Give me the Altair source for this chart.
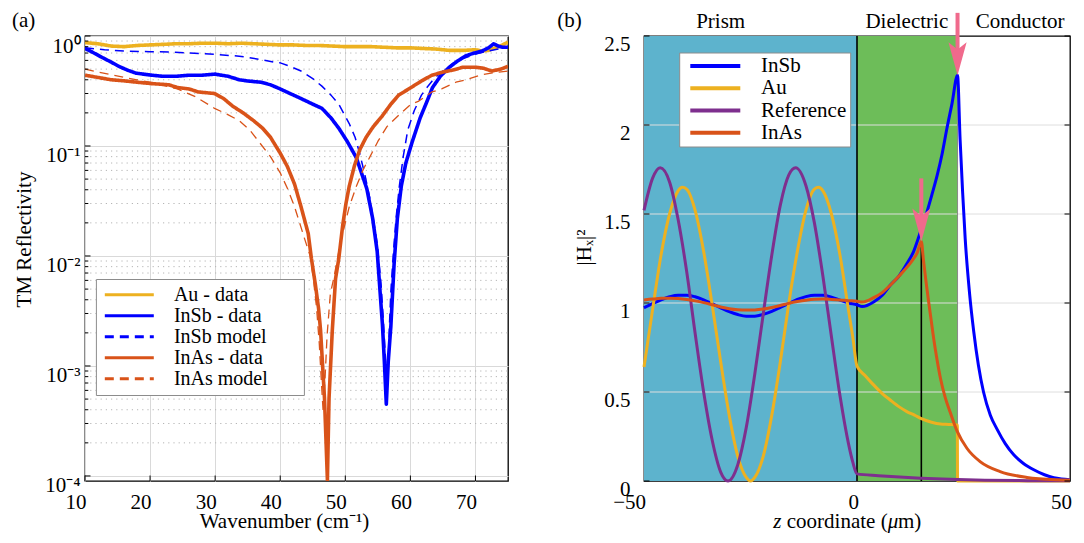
import altair as alt
import pandas as pd

FONT = "Liberation Serif"
FS = 21

# ---------------- panel (a): TM reflectivity ----------------
au_wn = [10, 12, 14, 16, 18, 20, 22, 24, 26, 28, 30, 32, 34, 36, 38, 40, 42, 44, 46, 48, 50, 52, 54, 56, 58, 60,
         62, 64, 66, 68, 70, 71, 72, 73, 74, 75]
au_r = [0.87, 0.85, 0.81, 0.80, 0.82, 0.83, 0.84, 0.85, 0.85, 0.86, 0.86, 0.85, 0.86, 0.85, 0.84, 0.83, 0.83, 0.82,
        0.82, 0.81, 0.80, 0.80, 0.80, 0.79, 0.78, 0.78, 0.77, 0.76, 0.74, 0.74, 0.75, 0.73, 0.74, 0.78, 0.82, 0.88]

insb_wn = [10, 11, 12.7, 14, 15.2, 16.5, 17.8, 19, 20.3, 22, 24, 26, 28, 30, 32, 33.7, 35, 37, 38.5, 40, 41.5, 43.2,
           45, 46.4, 47.8, 49, 50.3, 51.7, 53.3, 54.2, 54.9, 55.7, 56.0, 56.3, 56.6, 57.0, 57.5, 58.0, 58.6, 59.3,
           60.3, 61.5, 62.5, 63.4, 64.6, 65.9, 67.2, 68.5, 69.8, 71.0, 72.0, 72.8, 73.5, 74.2, 75]
insb_r = [0.77, 0.72, 0.635, 0.58, 0.53, 0.49, 0.46, 0.45, 0.44, 0.43, 0.43, 0.44, 0.44, 0.45, 0.43, 0.40, 0.39, 0.38,
          0.36, 0.33, 0.30, 0.27, 0.24, 0.22, 0.18, 0.145, 0.11, 0.078, 0.041, 0.022, 0.011, 0.0024, 0.0011, 0.00045,
          0.0011, 0.0023, 0.0085, 0.022, 0.043, 0.07, 0.11, 0.18, 0.25, 0.34, 0.43, 0.515, 0.59, 0.66, 0.70, 0.73,
          0.78, 0.85, 0.81, 0.79, 0.79]

insbm_wn = [10, 13, 16.2, 20, 23, 26, 30, 33, 35, 37, 39, 40, 41.5, 43.2, 45, 46.4, 47.8, 49, 50.6, 51.5, 52.2, 53,
            53.8, 54.4, 54.9, 55.5, 55.9, 56.2, 56.4, 56.6, 56.8, 57.0, 57.4, 57.8, 58.3, 58.9, 59.6, 60.6, 61.7,
            62.7, 63.8, 65, 66.5, 68, 70.2, 72, 73.5, 75]
insbm_r = [0.78, 0.75, 0.73, 0.72, 0.715, 0.70, 0.68, 0.66, 0.64, 0.61, 0.58, 0.57, 0.53, 0.48, 0.41, 0.35, 0.29,
           0.24, 0.16, 0.12, 0.086, 0.055, 0.033, 0.02, 0.013, 0.0055, 0.0023, 0.0011, 0.0007, 0.0011, 0.0025,
           0.0048, 0.011, 0.022, 0.043, 0.08, 0.14, 0.21, 0.29, 0.35, 0.42, 0.48, 0.56, 0.62, 0.69, 0.73, 0.76, 0.78]

inas_wn = [10, 12, 14, 16.2, 18, 20, 22.9, 24.2, 26, 27.4, 29.9, 31.3, 32.7, 34.3, 35.9, 37.3, 38.5, 40, 41.1, 42.2,
           43.2, 44.3, 44.8, 45.4, 45.9, 46.2, 46.8, 47.25, 47.5, 48.0, 48.5, 49.0, 49.6, 50.1, 50.6, 51.4, 52.2,
           53.2, 54.3, 55.6, 57.0, 58.2, 60.1, 61.7, 63.3, 65, 66.5, 68.1, 70, 71.2, 72.5, 73.9, 75]
inas_r = [0.44, 0.42, 0.40, 0.39, 0.38, 0.37, 0.36, 0.34, 0.33, 0.31, 0.30, 0.27, 0.23, 0.20, 0.17, 0.145, 0.12,
          0.086, 0.065, 0.045, 0.028, 0.016, 0.0094, 0.0055, 0.0033, 0.0021, 0.00051, 0.000092, 0.00051, 0.0021,
          0.0062, 0.0095, 0.019, 0.03, 0.043, 0.066, 0.092, 0.12, 0.15, 0.185, 0.24, 0.29, 0.34, 0.39, 0.44, 0.47,
          0.49, 0.52, 0.52, 0.51, 0.48, 0.50, 0.53]

inasm_wn = [10, 12, 13.7, 16, 18, 20, 22, 24.2, 27, 29.9, 31.8, 33.7, 35.3, 36.9, 38.5, 40, 41.2, 42.2, 43.1, 43.8,
            44.6, 45.1, 45.6, 46.0, 46.4, 46.6, 46.9, 47.2, 47.7, 48.3, 49.0, 49.6, 50.6, 51.7, 52.8, 53.8, 55.0,
            56.4, 58.2, 60.1, 61.3, 63.3, 64.8, 67, 68.5, 70.7, 71.5, 73, 75]
inasm_r = [0.50, 0.47, 0.45, 0.42, 0.40, 0.38, 0.355, 0.33, 0.28, 0.22, 0.195, 0.17, 0.14, 0.106, 0.08, 0.057, 0.04,
           0.028, 0.019, 0.014, 0.01, 0.0062, 0.0033, 0.0016, 0.0006, 0.00038, 0.0008, 0.0019, 0.0045, 0.0066,
           0.011, 0.016, 0.028, 0.043, 0.062, 0.08, 0.11, 0.15, 0.19, 0.24, 0.256, 0.31, 0.33, 0.38, 0.40, 0.44,
           0.45, 0.465, 0.48]

series_a = ["Au - data", "InSb - data", "InSb model", "InAs - data", "InAs model"]
colors_a = ["#EDB120", "#0000FF", "#0000FF", "#D95319", "#D95319"]
dash_a = [[1, 0], [1, 0], [9, 6], [1, 0], [9, 6]]
width_a = [3.6, 3.6, 1.5, 3.6, 1.3]

xticks_a = [10, 20, 30, 40, 50, 60, 70]
yticks_a = [1e-4, 1e-3, 1e-2, 1e-1, 1.0]
yminor_a = [m * 10.0 ** k for k in range(-4, 0) for m in range(2, 10)]

# ---------------- panel (b): field profiles ----------------
insb_z = [-50, -48, -46, -44, -42, -40, -38, -36, -34, -32, -30, -28, -26, -24, -22, -20, -18, -16, -14, -12, -10,
          -8, -6, -4, -2, 0, 1.2, 3.9, 6, 7.8, 9.8, 11.7, 13.3, 14.9, 16.4, 17.6, 18.8, 20, 21.1, 22.3, 23.6, 24.2,
          24.8, 25.4, 26.4, 27.4, 28.5, 29.7, 31.3, 32.9, 34.8, 36.8, 39, 41.5, 44, 46.2, 48, 50]
insb_h = [0.973, 0.996, 1.018, 1.035, 1.044, 1.044, 1.035, 1.018, 0.996, 0.973, 0.951, 0.935, 0.926, 0.926, 0.936,
          0.953, 0.975, 0.998, 1.020, 1.036, 1.044, 1.044, 1.033, 1.016, 1.0, 0.99, 0.98, 1.006, 1.045, 1.10, 1.15,
          1.22, 1.29, 1.40, 1.51, 1.61, 1.715, 1.84, 1.98, 2.12, 2.28, 1.92, 1.62, 1.36, 1.06, 0.84, 0.65, 0.50,
          0.37, 0.29, 0.21, 0.147, 0.10, 0.063, 0.035, 0.018, 0.011, 0.007]

au_z = [-50, -48, -46, -44, -42, -41, -40, -38, -36, -34, -32, -30, -28, -26, -25, -24, -22, -20, -18, -16, -14, -12,
        -10, -9, -8, -6, -4, -2, -1, 0, 2, 3.9, 6, 7.8, 10, 11.7, 13.5, 15.1, 17.5, 19.6, 21.5, 23.55, 23.6, 30, 40,
        50]
au_h = [0.64, 0.96, 1.27, 1.50, 1.63, 1.65, 1.64, 1.52, 1.29, 0.99, 0.67, 0.37, 0.14, 0.02, 0.0, 0.02, 0.14, 0.37,
        0.67, 1.00, 1.29, 1.52, 1.64, 1.65, 1.63, 1.50, 1.27, 0.96, 0.81, 0.645, 0.59, 0.54, 0.49, 0.455, 0.415,
        0.39, 0.37, 0.35, 0.33, 0.32, 0.318, 0.315, 0.0, 0.0, 0.0, 0.0]

ref_z = [-50, -48, -46.2, -44, -42, -40, -38, -36, -34, -32, -30.3, -28, -26, -24, -22, -20, -18, -16, -14.4, -12,
         -10, -8, -6, -4, -2, -1, 0, 5, 10, 15, 20, 23.6, 30, 40, 50]
ref_h = [1.52, 1.70, 1.76, 1.68, 1.47, 1.18, 0.83, 0.50, 0.23, 0.05, 0.0, 0.09, 0.30, 0.60, 0.94, 1.27, 1.55, 1.72,
         1.76, 1.66, 1.45, 1.15, 0.81, 0.48, 0.21, 0.107, 0.04, 0.03, 0.022, 0.016, 0.011, 0.008, 0.004, 0.002,
         0.001]

inas_z = [-50, -48, -46, -44, -42, -40, -38, -36, -34, -32, -30, -28, -26, -24, -22, -20, -18, -16, -14, -12, -10,
          -8, -6, -4, -2, 0, 1.2, 3.9, 6, 7.8, 9.8, 11.7, 13, 14.1, 15.1, 15.6, 16.2, 16.8, 17.4, 18, 18.8, 19.6,
          20.7, 21.9, 23.5, 25.8, 28.9, 33.6, 39.9, 46.9, 50]
inas_h = [1.017, 1.022, 1.026, 1.027, 1.025, 1.02, 1.012, 1.002, 0.99, 0.978, 0.968, 0.962, 0.96, 0.961, 0.966,
          0.975, 0.986, 0.998, 1.008, 1.016, 1.021, 1.022, 1.02, 1.017, 1.013, 1.01, 1.005, 1.03, 1.06, 1.10, 1.15,
          1.20, 1.24, 1.28, 1.345, 1.24, 1.12, 1.01, 0.905, 0.80, 0.68, 0.576, 0.47, 0.385, 0.28, 0.184, 0.109,
          0.053, 0.02, 0.007, 0.005]

series_b = ["InSb", "Au", "Reference", "InAs"]
colors_b = ["#0000FF", "#EDB120", "#7E2F8E", "#D95319"]

region_names = ["Prism", "Dielectric"]
region_start = [-50, 0]
region_end = [0, 23.6]
region_bottom = [0, 0]
region_top = [2.5, 2.5]
region_colors = ["#5DB3CD", "#6DBD59"]

label_names = ["Prism", "Dielectric", "Conductor"]
label_z = [-32, 11.7, 38.3]

interface_z = [0, 15.1]
interface_bottom = [0, 0]
interface_top = [2.5, 1.345]
edge_z = [23.6]

arrow_z = [23.6, 15.1]
arrow_tail = [2.63, 1.70]
arrow_neck = [2.40, 1.46]
arrow_tip = [2.28, 1.345]
PINK = "#F06A8C"
ARROW = "M0,0 L-0.55,-2 L0,-1.55 L0.55,-2 Z"

yticks_b = [0, 0.5, 1, 1.5, 2, 2.5]
ygrid_b = [0.5, 1, 1.5, 2]
xticks_b = [-50, 0, 50]

# x-axis title of panel (b), split so that z and mu can be italic
xtitle_parts = ["z", "coordinate (", "μ", "m)"]
xtitle_style = ["italic", "normal", "italic", "normal"]
xtitle_left = [129.3, 142.8, 243.7, 254.0]

W_A, H_A = 423, 445
W_B, H_B = 426, 445

# ---------------- build panel (a) ----------------
rows = []
for name, xs, ys in zip(series_a, [au_wn, insb_wn, insbm_wn, inas_wn, inasm_wn],
                        [au_r, insb_r, insbm_r, inas_r, inasm_r]):
    lw = width_a[series_a.index(name)]
    rows += [{"series": name, "x": x, "y": y, "lw": lw} for x, y in zip(xs, ys)]
df_a = pd.DataFrame(rows)

xa = alt.Scale(domain=[10, 75], nice=False, zero=False)
ya = alt.Scale(type="log", domain=[9.0e-5, 1.0], nice=False)

axis_text = dict(labelFont=FONT, labelFontSize=FS, labelColor="black", titleFont=FONT, titleFontSize=FS,
                 titleFontWeight="normal", titleColor="black", domain=False, ticks=False, tickSize=0,
                 labelFlush=False, labelOverlap=False)

x_axis_a = alt.Axis(values=xticks_a, format="d", grid=True, gridColor="#d9d9d9", gridWidth=1,
                    labelPadding=10.5, labelAlign="right", labelOffset=1, labelBaseline="top",
                    title="Wavenumber (cm⁻¹)", titleX=199, titleY=29.5, titleAlign="center", titleBaseline="top",
                    **axis_text)
y_axis_a = alt.Axis(values=yticks_a, grid=True, gridColor="#d9d9d9", gridWidth=1,
                    labelExpr="datum.value > 0.5 ? '10⁰' : datum.value > 0.05 ? '10⁻¹' : datum.value > 0.005 ? '10⁻²' : datum.value > 0.0005 ? '10⁻³' : '10⁻⁴'",
                    labelPadding=5, labelOffset=10, labelBaseline="middle", labelAlign="right",
                    title="TM Reflectivity", titleX=-51, titleY=203, titleAngle=270, titleAlign="center",
                    titleBaseline="bottom", **axis_text)

leg_a = alt.Legend(title=None, orient="none", legendX=10.9, legendY=243, fillColor="white",
                   strokeColor="#8c8c8c", padding=6, symbolType="stroke", symbolSize=2400,
                   symbolStrokeWidth=3, symbolOffset=1.4, clipHeight=19.6, rowPadding=0, labelOffset=18.6,
                   labelFont=FONT, labelFontSize=20, labelColor="black", labelLimit=0,
                   labelExpr="datum.label + '\u2800\u2800'")

minor_a = alt.Chart(pd.DataFrame({"v": yminor_a})).mark_rule(
    color="#b5b5b5", strokeDash=[1.2, 4], strokeWidth=1).encode(
    y=alt.Y("v:Q", scale=ya, axis=y_axis_a), x=alt.value(0), x2=alt.value(W_A))

lines_a = alt.Chart(df_a).mark_line(clip=True, strokeJoin="round").encode(
    x=alt.X("x:Q", scale=xa, axis=x_axis_a),
    y=alt.Y("y:Q", scale=ya, axis=y_axis_a),
    color=alt.Color("series:N", scale=alt.Scale(domain=series_a, range=colors_a), legend=leg_a),
    strokeDash=alt.StrokeDash("series:N", scale=alt.Scale(domain=series_a, range=dash_a), legend=leg_a),
    strokeWidth=alt.StrokeWidth("lw:Q", scale=None),
)

tick_major_a = alt.Chart(pd.DataFrame({"v": yticks_a})).mark_rule(color="black", strokeWidth=1).encode(
    y=alt.Y("v:Q", scale=ya, axis=y_axis_a), x=alt.value(0), x2=alt.value(5.5))
tick_minor_a = alt.Chart(pd.DataFrame({"v": yminor_a})).mark_rule(color="black", strokeWidth=1).encode(
    y=alt.Y("v:Q", scale=ya, axis=y_axis_a), x=alt.value(0), x2=alt.value(3.3))
tick_x_a = alt.Chart(pd.DataFrame({"v": xticks_a})).mark_rule(color="black", strokeWidth=1).encode(
    x=alt.X("v:Q", scale=xa, axis=x_axis_a), y=alt.value(H_A), y2=alt.value(H_A - 5.5))

tag_a = alt.Chart(pd.DataFrame({"t": ["(a)"]})).mark_text(
    align="left", baseline="top", font=FONT, fontSize=FS, color="black").encode(
    text="t:N", x=alt.value(-73), y=alt.value(-26.5))

panel_a = alt.layer(minor_a, lines_a, tick_major_a, tick_minor_a, tick_x_a, tag_a).properties(
    width=W_A, height=H_A)

# ---------------- build panel (b) ----------------
rows = []
for name, zs, hs in zip(series_b, [insb_z, au_z, ref_z, inas_z], [insb_h, au_h, ref_h, inas_h]):
    rows += [{"series": name, "z": z, "h": h} for z, h in zip(zs, hs)]
df_b = pd.DataFrame(rows)

xb = alt.Scale(domain=[-50, 50], nice=False, zero=False)
yb = alt.Scale(domain=[0, 2.5], nice=False, zero=False)

x_axis_b = alt.Axis(values=xticks_b, grid=False, labelPadding=10.5, labelAlign="right", labelOffset=1.5,
                    labelBaseline="top", title=None, **axis_text)
y_axis_b = alt.Axis(values=yticks_b, format=".1~f", grid=False, labelPadding=14, labelOffset=8.5,
                    labelBaseline="middle", labelAlign="right", title="|Hₓ|²", titleX=-50, titleY=211,
                    titleAngle=270, titleAlign="center", titleBaseline="bottom", **axis_text)

leg_b = alt.Legend(title=None, orient="none", legendX=35.2, legendY=16.5, fillColor="white",
                   strokeColor="#8c8c8c", padding=3.6, symbolType="stroke", symbolSize=2500,
                   symbolStrokeWidth=4, symbolOffset=5.5, clipHeight=20, rowPadding=1.2, labelOffset=18.8,
                   labelFont=FONT, labelFontSize=FS, labelColor="black", labelLimit=0)

X_B = dict(scale=xb, axis=x_axis_b)
Y_B = dict(scale=yb, axis=y_axis_b)

regions = alt.Chart(pd.DataFrame({"name": region_names, "x0": region_start, "x1": region_end,
                                  "y0": region_bottom, "y1": region_top})).mark_rect().encode(
    x=alt.X("x0:Q", **X_B), x2="x1:Q",
    y=alt.Y("y0:Q", **Y_B), y2="y1:Q",
    fill=alt.Fill("name:N", scale=alt.Scale(domain=region_names, range=region_colors), legend=None))

grid_b = alt.Chart(pd.DataFrame({"v": ygrid_b})).mark_rule(color="#dedede", strokeWidth=1).encode(
    y=alt.Y("v:Q", **Y_B), x=alt.value(0), x2=alt.value(W_B))

edge_b = alt.Chart(pd.DataFrame({"z": edge_z})).mark_rule(color="#8a8a8a", strokeWidth=1).encode(
    x=alt.X("z:Q", **X_B))

interfaces = alt.Chart(pd.DataFrame({"z": interface_z, "y0": interface_bottom, "y1": interface_top})).mark_rule(
    color="black", strokeWidth=1.6).encode(
    x=alt.X("z:Q", **X_B), y=alt.Y("y0:Q", **Y_B), y2="y1:Q")

lines_b = alt.Chart(df_b).mark_line(interpolate="monotone", strokeWidth=3, strokeJoin="round").encode(
    x=alt.X("z:Q", **X_B),
    y=alt.Y("h:Q", **Y_B),
    color=alt.Color("series:N", scale=alt.Scale(domain=series_b, range=colors_b), legend=leg_b),
)

tick_l_b = alt.Chart(pd.DataFrame({"v": yticks_b})).mark_rule(color="black", strokeWidth=1).encode(
    y=alt.Y("v:Q", **Y_B), x=alt.value(0), x2=alt.value(5.5))
tick_r_b = alt.Chart(pd.DataFrame({"v": yticks_b})).mark_rule(color="black", strokeWidth=1).encode(
    y=alt.Y("v:Q", **Y_B), x=alt.value(W_B - 5.5), x2=alt.value(W_B))

df_arrow = pd.DataFrame({"z": arrow_z, "tail": arrow_tail, "neck": arrow_neck, "tip": arrow_tip})
shafts = alt.Chart(df_arrow).mark_rule(color=PINK, strokeWidth=4).encode(
    x=alt.X("z:Q", **X_B), y=alt.Y("tail:Q", **Y_B), y2="neck:Q")
heads = alt.Chart(df_arrow).mark_point(shape=ARROW, filled=True, size=1089, color=PINK, opacity=1,
                                       strokeWidth=0).encode(
    x=alt.X("z:Q", **X_B), y=alt.Y("tip:Q", **Y_B))

region_text = alt.Chart(pd.DataFrame({"name": label_names, "z": label_z})).mark_text(
    align="center", baseline="alphabetic", font=FONT, fontSize=FS, color="black").encode(
    x=alt.X("z:Q", **X_B), y=alt.value(-8.5), text="name:N")

tag_b = alt.Chart(pd.DataFrame({"t": ["(b)"]})).mark_text(
    align="left", baseline="top", font=FONT, fontSize=FS, color="black").encode(
    text="t:N", x=alt.value(-86.7), y=alt.value(-26.5))

xtitle_layers = []
for part, style, left in zip(xtitle_parts, xtitle_style, xtitle_left):
    xtitle_layers.append(
        alt.Chart(pd.DataFrame({"t": [part]})).mark_text(
            align="left", baseline="alphabetic", font=FONT, fontSize=FS, fontStyle=style, color="black"
        ).encode(text="t:N", x=alt.value(left), y=alt.value(H_B + 46.5))
    )

panel_b = alt.layer(regions, grid_b, edge_b, interfaces, lines_b, tick_l_b, tick_r_b, shafts, heads,
                    region_text, tag_b, *xtitle_layers).properties(width=W_B, height=H_B)

chart = alt.hconcat(panel_a, panel_b, spacing=46).resolve_scale(
    color="independent", strokeDash="independent", fill="independent"
).resolve_legend(
    color="independent", strokeDash="independent"
).properties(
    padding={"left": 3, "top": 0, "right": 0, "bottom": 0}
).configure(font=FONT).configure_view(stroke="black", strokeWidth=1.3)

chart.save("out.html", embed_options={"renderer": "svg", "actions": False})
